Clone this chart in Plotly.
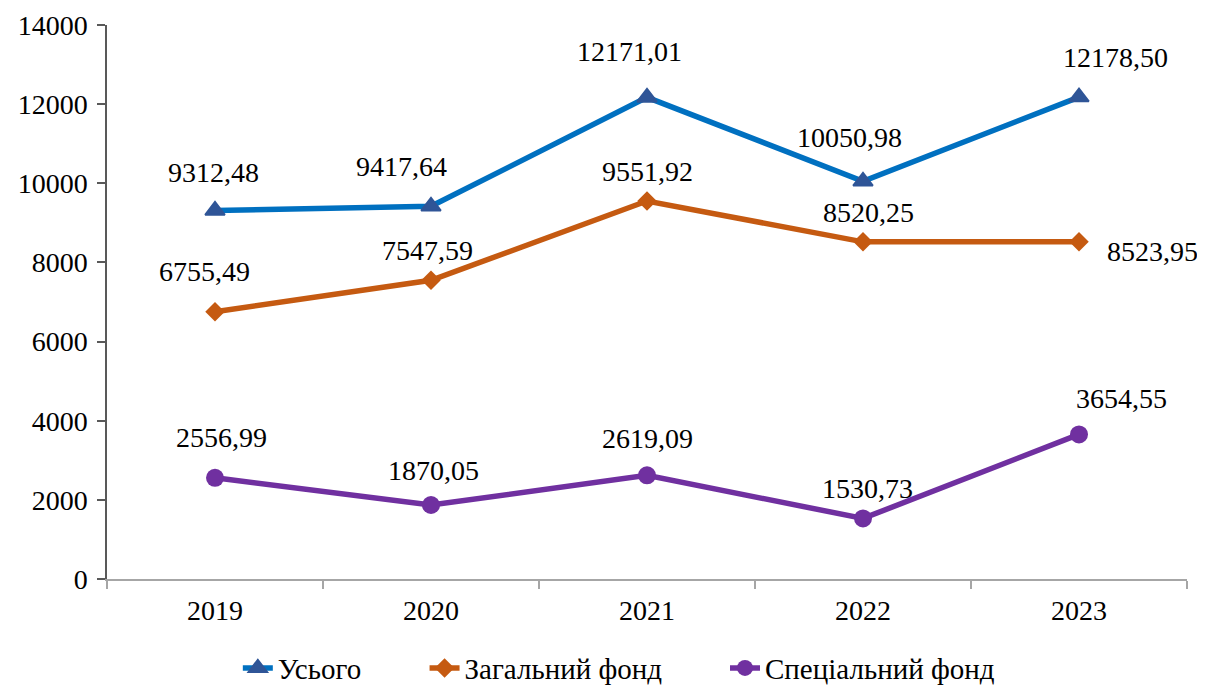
import plotly.graph_objects as go

years = ["2019", "2020", "2021", "2022", "2023"]
total = [9312.48, 9417.64, 12171.01, 10050.98, 12178.50]
general_fund = [6755.49, 7547.59, 9551.92, 8520.25, 8523.95]
special_fund = [2556.99, 1870.05, 2619.09, 1530.73, 3654.55]

series_names = ["Усього", "Загальний фонд", "Спеціальний фонд"]

# label offsets in pixels (dx right, dy up) for each point
total_shift = [(-2, 38), (-30, 40), (-18, 46), (-14, 44), (36, 40)]
general_shift = [(-11, 40), (-4, 30), (0, 30), (5, 29), (73, -10)]
special_shift = [(6, 40), (2, 35), (0, 37), (4, 30), (42, 36)]

font = "Liberation Serif"

fig = go.Figure()

fig.add_trace(go.Scatter(
    x=years, y=total, name=series_names[0], mode="lines+markers",
    line=dict(color="#0070C0", width=5.5),
    marker=dict(symbol="triangle-up", size=17, color="#2F5597",
                line=dict(color="#2F5597", width=2)),
    legend="legend",
))
fig.add_trace(go.Scatter(
    x=years, y=general_fund, name=series_names[1], mode="lines+markers",
    line=dict(color="#C55A11", width=5.5),
    marker=dict(symbol="diamond", size=15, color="#C55A11"),
    legend="legend2",
))
fig.add_trace(go.Scatter(
    x=years, y=special_fund, name=series_names[2], mode="lines+markers",
    line=dict(color="#7030A0", width=5.5),
    marker=dict(symbol="circle", size=18, color="#7030A0"),
    legend="legend3",
))

# data labels (category axis -> position by index)
labels = []
for values, shifts in [(total, total_shift), (general_fund, general_shift), (special_fund, special_shift)]:
    for i, (v, (dx, dy)) in enumerate(zip(values, shifts)):
        labels.append(dict(
            x=i, y=v, xref="x", yref="y", text=f"{v:.2f}".replace(".", ","),
            showarrow=False, xshift=dx, yshift=dy,
            font=dict(family=font, size=28, color="black"),
        ))


def legend_at(x):
    return dict(
        orientation="h", xref="container", x=x, xanchor="left",
        yref="container", y=0.0265, yanchor="middle",
        font=dict(family=font, size=29), bgcolor="rgba(0,0,0,0)",
    )


fig.update_layout(
    width=1197, height=678,
    margin=dict(l=99, r=18, t=17, b=107),
    paper_bgcolor="white", plot_bgcolor="white",
    font=dict(family=font, size=28, color="black"),
    annotations=labels,
    showlegend=True,
    legend=legend_at(0.192),
    legend2=legend_at(0.348),
    legend3=legend_at(0.599),
)

fig.update_xaxes(
    type="category", range=[-0.5, 4.5], tickson="boundaries",
    showline=True, linecolor="#A6A6A6", linewidth=1.5,
    ticks="outside", ticklen=8, tickcolor="#A6A6A6", tickwidth=1.5,
    showgrid=False, zeroline=False, automargin=False,
    ticklabelstandoff=6,
    tickfont=dict(family=font, size=28),
)
fig.update_yaxes(
    range=[0, 14000], dtick=2000, tickformat="d",
    showline=True, linecolor="#595959", linewidth=1.5,
    ticks="outside", ticklen=8, tickcolor="#595959", tickwidth=1.5,
    showgrid=False, zeroline=False, automargin=False,
    ticklabelstandoff=4,
    tickfont=dict(family=font, size=28),
)

fig.write_html("out.html")
